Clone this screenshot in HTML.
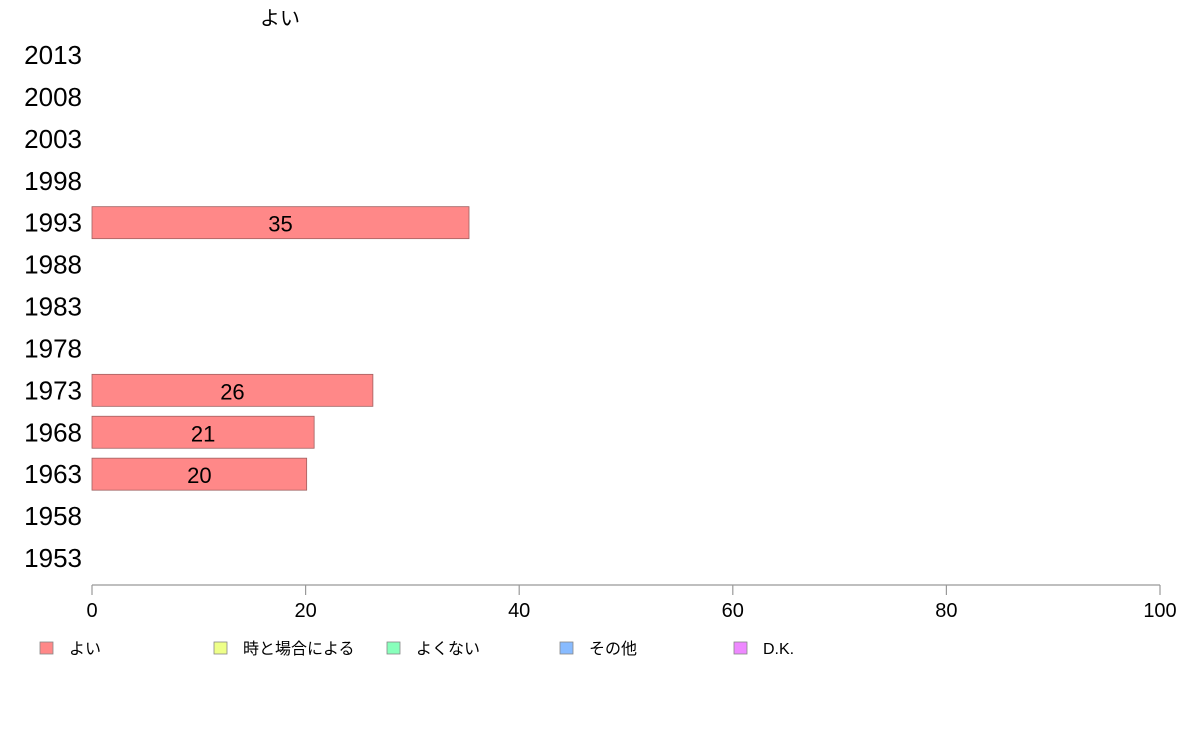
<!DOCTYPE html>
<html><head><meta charset="utf-8"><style>
body{margin:0;background:#fff;}
svg{display:block;font-family:"Liberation Sans","Noto Sans CJK JP",sans-serif;}
</style></head><body>
<svg id="chart" width="1188" height="736">
<text x="280" y="25" font-size="20" text-anchor="middle">よい</text>
<g id="ylabels"></g>
<g id="bars"></g>
<g id="xaxis"></g>
<g id="legend"></g>
</svg>
<script>
const categories=["2013","2008","2003","1998","1993","1988","1983","1978","1973","1968","1963","1958","1953"];
const values=[null,null,null,null,35.3,null,null,null,26.3,20.8,20.1,null,null];
const xTicks=[0,20,40,60,80,100];
const legendLabels=["よい","時と場合による","よくない","その他","D.K."];
const legendColors=["#ff8888","#eeff88","#88ffbb","#88bbff","#ee88ff"];
const NS="http://www.w3.org/2000/svg";
const x0=92,x1=1160,yTop=55,yBot=558,axisY=585;
const xs=v=>x0+(x1-x0)*v/100;
const ys=i=>yTop+(yBot-yTop)*i/(categories.length-1);
function mk(t,a,p){const e=document.createElementNS(NS,t);for(const k in a)e.setAttribute(k,a[k]);p.appendChild(e);return e;}
const yl=document.getElementById('ylabels'),bg=document.getElementById('bars'),xa=document.getElementById('xaxis'),lg=document.getElementById('legend');
categories.forEach((c,i)=>{
 const t=mk('text',{x:82,y:ys(i)+9,'font-size':26,'text-anchor':'end'},yl);
 
 
 t.textContent=c;
 const v=values[i];
 if(v!=null){
  const r=mk('rect',{x:x0,y:ys(i)-16,width:xs(v)-x0,height:32,fill:'#ff8888',stroke:'#a06060','stroke-width':0.8},bg);
  
  
  const l=mk('text',{x:(x0+xs(v))/2,y:ys(i)+9,'font-size':22,'text-anchor':'middle'},bg);
  
  
  l.textContent=Math.round(v);
 }
});
mk('line',{x1:x0,x2:x1,y1:axisY,y2:axisY,stroke:'#999','stroke-width':1.2},xa);
xTicks.forEach(v=>{
 mk('line',{x1:xs(v),x2:xs(v),y1:axisY,y2:axisY+10,stroke:'#999','stroke-width':1.2},xa);
 const t=mk('text',{x:xs(v),y:axisY+32,'font-size':20,'text-anchor':'middle'},xa);
 
 
 t.textContent=v;
});
const lx=[40,214,387,560,734];
legendLabels.forEach((s,i)=>{
 const g=mk('g',{},lg);
 
 
 mk('rect',{x:lx[i],y:642,width:13,height:12,fill:legendColors[i],stroke:'#888','stroke-width':0.8},g);
 const t=mk('text',{x:lx[i]+29,y:654,'font-size':16},g);
 t.textContent=s;
});
</script>
</body></html>
